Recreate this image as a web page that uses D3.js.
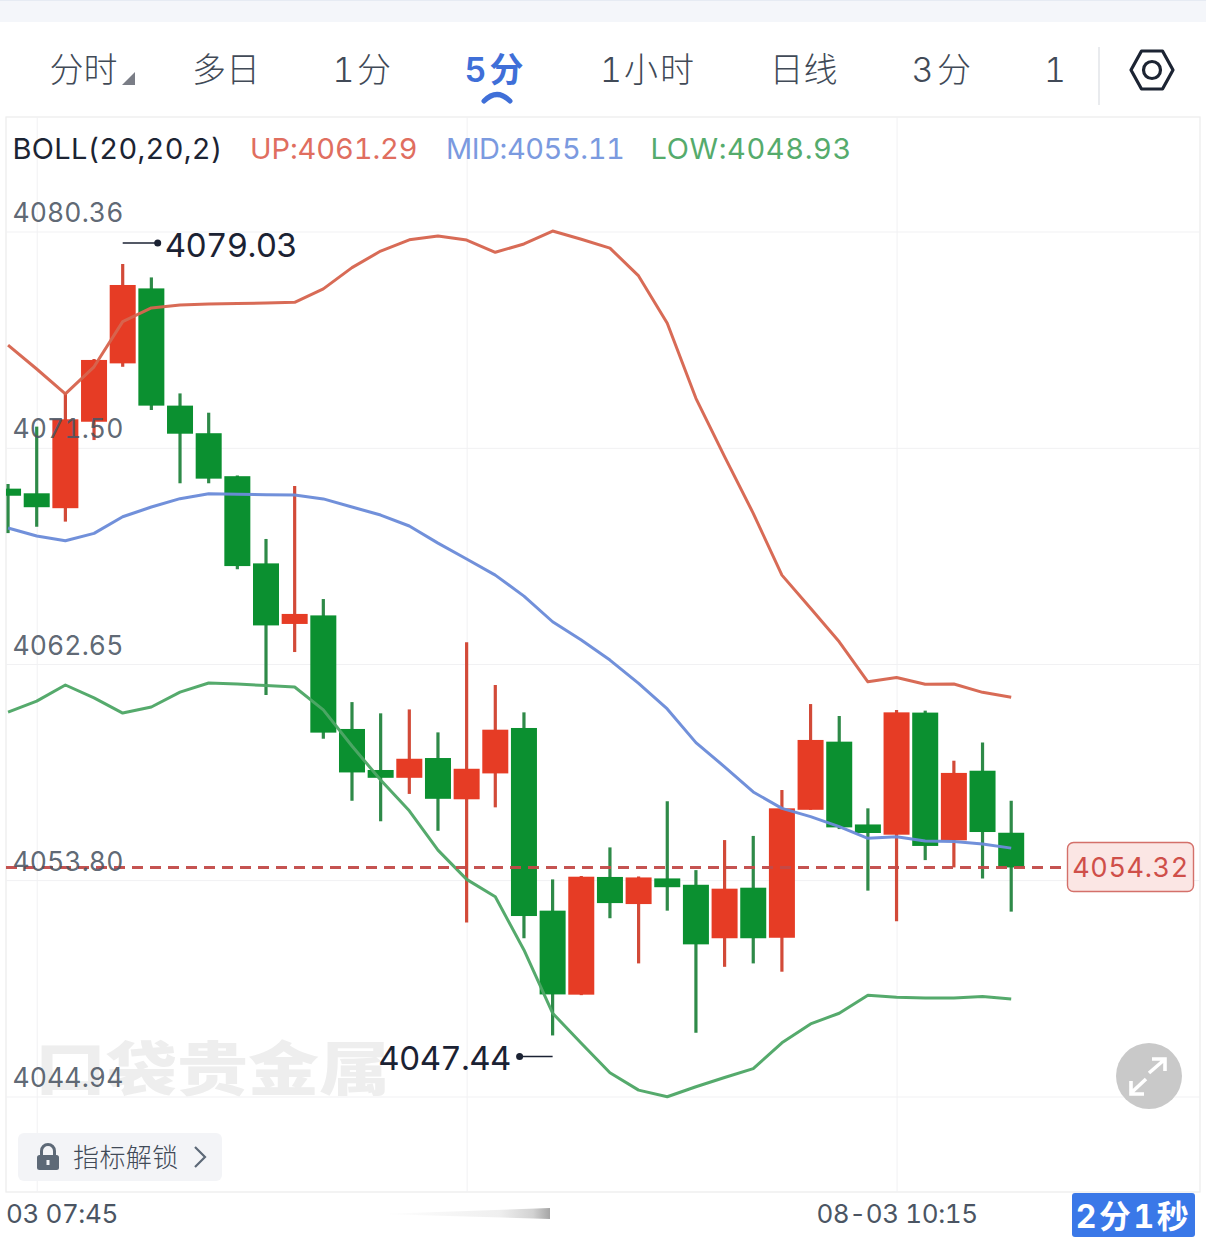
<!DOCTYPE html>
<html><head><meta charset="utf-8">
<script src="https://cdn.jsdelivr.net/npm/d3@7/dist/d3.min.js"></script>
<style>
html,body{margin:0;padding:0;background:#fff;overflow:hidden}
svg{display:block}
text{font-family:Inter,"Noto Sans CJK SC",sans-serif;font-feature-settings:"tnum" 1}
</style></head><body><div id="chart"></div>
<script>
const opens=[4069.83,4069.64,4069.03,4072.57,4074.96,4078.03,4073.23,4072.10,4070.34,4066.77,4064.29,4064.64,4059.99,4058.31,4057.99,4058.80,4057.11,4058.17,4060.03,4052.55,4049.11,4053.93,4052.82,4053.87,4053.61,4051.42,4053.49,4051.44,4056.68,4059.47,4056.08,4055.66,4060.66,4055.43,4058.28,4055.74];
const closes=[4069.54,4069.07,4072.67,4075.10,4078.17,4073.23,4072.08,4070.24,4066.66,4064.23,4064.70,4059.84,4058.21,4057.99,4058.77,4057.13,4058.36,4059.96,4052.33,4049.12,4053.94,4052.86,4053.91,4053.51,4051.17,4053.45,4051.42,4056.74,4059.54,4055.96,4055.73,4060.67,4055.20,4058.19,4055.77,4054.32];
const highs=[4070.02,4072.37,4073.75,4075.14,4079.03,4078.48,4073.73,4072.94,4070.37,4067.77,4069.94,4065.31,4061.09,4060.63,4060.79,4059.85,4063.54,4061.79,4060.67,4053.83,4053.97,4055.14,4053.95,4057.03,4054.21,4055.44,4055.61,4057.49,4061.01,4060.52,4056.74,4060.77,4060.74,4058.69,4059.44,4057.05];
const lows=[4068.01,4068.27,4068.48,4071.82,4074.82,4073.05,4070.05,4070.05,4066.53,4061.38,4063.14,4059.59,4057.05,4056.21,4057.33,4055.82,4052.06,4056.78,4051.42,4047.44,4049.09,4052.24,4050.39,4052.55,4047.55,4050.25,4050.39,4050.05,4056.68,4055.89,4053.37,4052.12,4054.62,4054.32,4053.87,4052.51];
const upper=[4075.71,4074.73,4073.71,4074.82,4076.67,4077.23,4077.35,4077.39,4077.41,4077.43,4077.46,4078.01,4078.88,4079.56,4080.02,4080.18,4080.01,4079.51,4079.85,4080.38,4080.04,4079.68,4078.54,4076.60,4073.53,4071.14,4068.82,4066.29,4064.93,4063.56,4061.92,4062.10,4061.82,4061.83,4061.49,4061.29];
const middle=[4068.22,4067.89,4067.70,4068.00,4068.68,4069.08,4069.42,4069.62,4069.60,4069.58,4069.57,4069.41,4069.08,4068.75,4068.30,4067.60,4066.95,4066.29,4065.43,4064.38,4063.63,4062.81,4061.86,4060.81,4059.43,4058.44,4057.41,4056.74,4056.40,4055.99,4055.51,4055.58,4055.40,4055.38,4055.28,4055.11];
const lower=[4060.68,4061.13,4061.79,4061.26,4060.64,4060.89,4061.50,4061.87,4061.83,4061.77,4061.71,4060.77,4059.29,4057.90,4056.64,4055.03,4053.83,4053.12,4050.94,4048.35,4047.12,4045.91,4045.20,4044.93,4045.34,4045.72,4046.08,4047.14,4047.91,4048.35,4049.09,4049.00,4048.97,4048.97,4049.03,4048.93];
const yTicks=[4080.36,4071.50,4062.65,4053.80,4044.94];
const xTickIndex=[1,16,31];
const xTickLabels=["08-03 07:45","","08-03 10:15"];
const lastPrice=4054.32;
const tabs=["分时","多日","1分","5分","1小时","日线","3分","1"];
const legend=["BOLL(20,20,2)","UP:4061.29","MID:4055.11","LOW:4048.93"];

const W=1206,H=1237;
const plot={l:6,r:1200,t:117,b:1192};
const x=d3.scaleLinear().domain([0,35]).range([8.05,1011.2]);
const y=d3.scaleLinear().domain([4044.94,4080.36]).range([1096.5,231.5]);
const RED="#e63c25",GREEN="#0b9030",REDW="#d24a38",GREENW="#2e8a48";
const svg=d3.select("#chart").append("svg").attr("width",W).attr("height",H);
const defs=svg.append("defs");
defs.append("clipPath").attr("id","plotClip").append("rect").attr("x",plot.l).attr("y",plot.t).attr("width",plot.r-plot.l).attr("height",plot.b-plot.t);
defs.append("clipPath").attr("id","axisClip").append("rect").attr("x",plot.l).attr("y",0).attr("width",plot.r-plot.l).attr("height",H);
const grad=defs.append("linearGradient").attr("id","smear");
grad.append("stop").attr("offset","0").attr("stop-color","#ffffff");
grad.append("stop").attr("offset","0.7").attr("stop-color","#efefef");
grad.append("stop").attr("offset","0.9").attr("stop-color","#d2d2d2");
grad.append("stop").attr("offset","1").attr("stop-color","#a5a5a5");

// top band
svg.append("rect").attr("width",W).attr("height",22).attr("fill","#f4f6fa");
svg.append("rect").attr("width",W).attr("height",1).attr("fill","#e6ebf3");

// toolbar
const tabX=[83.5,226,363,495.5,648,803.5,943,1055];
const tabSpacing=[0,0,2.5,3,2,0,3.5,0];
svg.append("g").selectAll("text").data(tabs).join("text")
 .attr("x",(d,i)=>tabX[i]).attr("y",82).attr("text-anchor","middle")
 .attr("font-size",34).attr("font-weight",(d,i)=>i===3?600:300)
 .attr("letter-spacing",(d,i)=>tabSpacing[i])
 .attr("fill",(d,i)=>i===3?"#3f6fd8":"#414a57").text(d=>d);
svg.append("path").attr("d","M122 85 L135 85 L135 72 Z").attr("fill","#7a7d86");
svg.append("path").attr("d","M484 101 Q497 88 510 101").attr("fill","none").attr("stroke","#3f6fd8").attr("stroke-width",5).attr("stroke-linecap","round");
svg.append("rect").attr("x",1098).attr("y",47).attr("width",2).attr("height",58).attr("fill","#e9ebee");
svg.append("path").attr("d","M1131 70 L1141.5 51 L1162.5 51 L1173 70 L1162.5 89 L1141.5 89 Z").attr("fill","none").attr("stroke","#1c2433").attr("stroke-width",3.2).attr("stroke-linejoin","round");
svg.append("circle").attr("cx",1152).attr("cy",70).attr("r",8.5).attr("fill","none").attr("stroke","#1c2433").attr("stroke-width",3.2);

// frame + grid
const frame=svg.append("g");
frame.append("rect").attr("x",plot.l).attr("y",plot.t).attr("width",plot.r-plot.l).attr("height",plot.b-plot.t).attr("fill","#fff").attr("stroke","#ececec").attr("stroke-width",1.2);

// watermark
svg.append("text").attr("transform","translate(35,1090) scale(1,0.82)").attr("font-size",71).attr("font-weight",900).attr("fill","#eeeeee").attr("textLength",355).text("口袋贵金属");

// y axis grid
const yAxis=d3.axisRight(y).tickValues(yTicks).tickSize(plot.r-plot.l).tickFormat(d=>d.toFixed(2));
const yG=svg.append("g").attr("transform",`translate(${plot.l},0)`).call(yAxis);
yG.select(".domain").remove();
yG.selectAll("line").attr("stroke","#f1f1f3").attr("stroke-width",1);
yG.selectAll("text").remove();

// x axis grid + labels
const xAxis=d3.axisBottom(x).tickValues(xTickIndex).tickSize(plot.b-plot.t).tickFormat((d,i)=>xTickLabels[i]);
const xG=svg.append("g").attr("transform",`translate(0,${plot.t})`).call(xAxis);
xG.select(".domain").remove();
xG.attr("clip-path","url(#axisClip)");
xG.selectAll("line").attr("stroke","#f1f1f3").attr("stroke-width",1);
xG.selectAll("text").attr("font-size",26).attr("fill","#4b5563").attr("font-family",null).attr("dy",0).attr("y",plot.b-plot.t+31).attr("letter-spacing",-0.4);

// candles
const idx=d3.range(opens.length);
const chart=svg.append("g").attr("clip-path","url(#plotClip)");
const bw=26;
chart.append("g").selectAll("line").data(idx).join("line")
 .attr("x1",i=>x(i)).attr("x2",i=>x(i)).attr("y1",i=>y(highs[i])).attr("y2",i=>y(lows[i]))
 .attr("stroke",i=>closes[i]>=opens[i]?REDW:GREENW).attr("stroke-width",3.2);
chart.append("g").selectAll("rect").data(idx).join("rect")
 .attr("x",i=>x(i)-bw/2).attr("width",bw)
 .attr("y",i=>y(Math.max(opens[i],closes[i])))
 .attr("height",i=>Math.abs(y(opens[i])-y(closes[i])))
 .attr("fill",i=>closes[i]>=opens[i]?RED:GREEN);

// last price dashed
svg.append("line").attr("x1",plot.l).attr("x2",1062).attr("y1",y(lastPrice)).attr("y2",y(lastPrice))
 .attr("stroke","#c24a48").attr("stroke-width",3).attr("stroke-dasharray","11 7").attr("stroke-opacity",0.95);

// bollinger
const line=d3.line().x((d,i)=>x(i)).y(d=>y(d));
[[upper,"#d6654f"],[middle,"#6b8bd8"],[lower,"#4ea766"]].forEach(([s,c])=>{
 chart.append("path").attr("d",line(s)).attr("fill","none").attr("stroke",c).attr("stroke-width",3).attr("stroke-linejoin","round").attr("stroke-opacity",0.96);
});

// y labels on top
svg.append("g").selectAll("text").data(yTicks).join("text")
 .attr("x",12.5).attr("y",d=>y(d)-9.5).attr("font-size",26.5).attr("fill","#4b5563").attr("fill-opacity",0.9).attr("letter-spacing",0.1).text(d=>d.toFixed(2));

// legend
const legX=[12.5,250,446,650.5],legC=["#1c2433","#e06e5f","#7b9adf","#55ab6c"],legS=[0.3,-0.1,-0.45,0.6];
svg.append("g").selectAll("text").data(legend).join("text")
 .attr("x",(d,i)=>legX[i]).attr("y",159).attr("font-size",29).attr("fill",(d,i)=>legC[i]).attr("letter-spacing",(d,i)=>legS[i]).text(d=>d);

// hi/lo annotations
const hiV=d3.max(highs),loV=d3.min(lows);
const hiI=highs.indexOf(hiV),loI=lows.indexOf(loV);
const ann=svg.append("g").attr("fill","#1b2233");
ann.append("line").attr("x1",x(hiI)).attr("x2",x(hiI)+34).attr("y1",y(hiV)-21).attr("y2",y(hiV)-21).attr("stroke","#1b2233").attr("stroke-width",1.6);
ann.append("circle").attr("cx",x(hiI)+35).attr("cy",y(hiV)-21).attr("r",3.5);
ann.append("text").attr("x",x(hiI)+42).attr("y",y(hiV)-7).attr("font-size",33).attr("letter-spacing",-0.7).text(hiV.toFixed(2));
ann.append("line").attr("x1",x(loI)-33).attr("x2",x(loI)).attr("y1",y(loV)+21).attr("y2",y(loV)+21).attr("stroke","#1b2233").attr("stroke-width",1.6);
ann.append("circle").attr("cx",x(loI)-33).attr("cy",y(loV)+21).attr("r",3.5);
ann.append("text").attr("x",x(loI)-42).attr("y",y(loV)+35).attr("text-anchor","end").attr("font-size",33).attr("letter-spacing",-0.7).text(loV.toFixed(2));

// price tag
svg.append("rect").attr("x",1067.5).attr("y",842.5).attr("width",126).attr("height",49).attr("rx",6).attr("fill","#fbe6e4").attr("stroke","#d4706a").attr("stroke-width",1.4);
svg.append("text").attr("x",1130.5).attr("y",y(lastPrice)+10).attr("text-anchor","middle").attr("font-size",27).attr("fill","#cf4f49").attr("letter-spacing",0.6).text(lastPrice.toFixed(2));

// expand button
svg.append("circle").attr("cx",1149).attr("cy",1076).attr("r",33).attr("fill","#c9c9c9");
svg.append("path").attr("d","M1149 1073 L1164 1060 M1152 1059 L1165 1059 L1165 1071 M1146 1079 L1131 1093 M1131 1081 L1131 1094 L1144 1094").attr("fill","none").attr("stroke","#fff").attr("stroke-width",3.6);

// unlock
svg.append("rect").attr("x",18).attr("y",1133).attr("width",204).attr("height",48).attr("rx",6).attr("fill","#f3f4f7");
svg.append("rect").attr("x",37).attr("y",1155).attr("width",22).attr("height",15).attr("rx",2.5).attr("fill","#5d6977");
svg.append("path").attr("d","M41.5 1156 V1151 a6.5 6.5 0 0 1 13 0 V1156").attr("fill","none").attr("stroke","#5d6977").attr("stroke-width",3);
svg.append("rect").attr("x",46.5).attr("y",1160).attr("width",3).attr("height",5).attr("fill","#f3f4f7");
svg.append("text").attr("x",73).attr("y",1167).attr("font-size",26).attr("font-weight",300).attr("letter-spacing",0.4).attr("fill","#414a57").text("指标解锁");
svg.append("path").attr("d","M195 1147 L205 1157 L195 1167").attr("fill","none").attr("stroke","#5d6977").attr("stroke-width",2.2);

// smear in axis row
svg.append("path").attr("d","M380 1214 L550 1208 L550 1219 Z").attr("fill","url(#smear)");

// timer
svg.append("rect").attr("x",1072).attr("y",1193).attr("width",123).attr("height",44).attr("rx",3).attr("fill","#3a78e8");
svg.append("text").attr("x",1133.5).attr("y",1228).attr("text-anchor","middle").attr("font-size",32).attr("font-weight",700).attr("fill","#fff").attr("letter-spacing",2.5).text("2分1秒");
</script></body></html>
